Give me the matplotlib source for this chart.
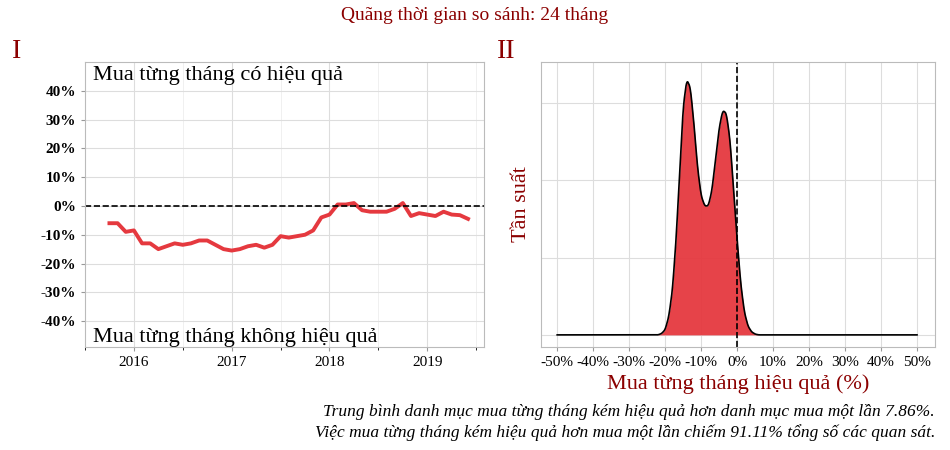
import matplotlib
matplotlib.use("Agg")
import matplotlib.pyplot as plt
import numpy as np

plt.rcParams['font.family'] = ['Liberation Serif', 'DejaVu Serif']

# Left panel: monthly relative performance (%) from Oct 2015
start_year = 2015.75
perf = [-6, -6, -9, -8.5, -13, -13, -15, -14, -13, -13.5, -13, -12, -12, -13.5, -15,
        -15.5, -15, -14, -13.5, -14.5, -13.5, -10.5, -11, -10.5, -10, -8.5, -4, -3,
        0.5, 0.5, 1, -1.5, -2, -2, -2, -1, 1, -3.5, -2.5, -3, -3.5, -2, -3, -3.2, -4.5]
years = [2016, 2017, 2018, 2019]
yticks = [-40, -30, -20, -10, 0, 10, 20, 30, 40]

# Right panel: density curve
dens_x = [-50, -22, -21, -20, -19, -18, -17, -16, -15, -14, -13, -12, -11, -10, -9, -8, -7,
          -6, -5, -4, -3, -2, -1, 0, 1, 2, 3, 4, 5, 6, 50]
dens_y = [0, 0, 0.005, 0.02, 0.07, 0.17, 0.36, 0.62, 0.88, 0.99, 0.96, 0.82, 0.65, 0.54,
          0.5, 0.5, 0.56, 0.68, 0.8, 0.87, 0.86, 0.76, 0.57, 0.37, 0.2, 0.09, 0.035,
          0.012, 0.003, 0, 0]
xticks_r = list(range(-50, 51, 10))

RED = '#e5393f'
DARK = '#8b0000'

fig = plt.figure(figsize=(9.5, 4.5), dpi=100)
ax1 = fig.add_axes([85/950, 1-347/450, 399/950, 285/450])
ax2 = fig.add_axes([541/950, 1-347/450, 394/950, 285/450])

for ax in (ax1, ax2):
    ax.grid(True, color='#dddddd', lw=0.8)
    ax.set_axisbelow(True)
    for s in ax.spines.values():
        s.set_color('#bbbbbb')
    ax.tick_params(length=3, color='#999999')

t = start_year + np.arange(len(perf)) / 12.0
ax1.plot(t, perf, color=RED, lw=2.8)
ax1.axhline(0, color='black', ls='--', lw=1.2)
ax1.set_xlim(2015.51, 2019.58)
ax1.set_ylim(-49, 50)
ax1.set_xticks(years)
ax1.set_xticklabels([str(y) for y in years], fontsize=11)
ax1.set_xticks([2015.5, 2016.5, 2017.5, 2018.5, 2019.5], minor=True)
ax1.grid(True, which='minor', color='#eeeeee', lw=0.6)
ax1.set_yticks(yticks)
ax1.set_yticklabels([f"{v}%" for v in yticks], fontsize=11, fontweight='bold')
ax1.text(0.02, 0.985, "Mua từng tháng có hiệu quả", transform=ax1.transAxes,
         fontsize=16, va='top', ha='left')
ax1.text(0.02, 0.0, "Mua từng tháng không hiệu quả", transform=ax1.transAxes,
         fontsize=16, va='bottom', ha='left')

xs = np.linspace(-50, 50, 2001)
ys = np.interp(xs, dens_x, dens_y)
k = np.ones(15) / 15
ys = np.convolve(ys, k, mode='same')
ax2.fill_between(xs, 0, ys, color=RED, alpha=0.95, lw=0)
ax2.plot(xs, ys, color='black', lw=1.2)
ax2.axvline(0, color='black', ls='--', lw=1.2)
ax2.set_xlim(-54.5, 55)
ax2.set_ylim(-0.047, 1.058)
ax2.set_xticks(xticks_r)
ax2.set_xticklabels([f"{v}%" for v in xticks_r], fontsize=11)
ax2.set_yticks([0, 0.3, 0.6, 0.9])
ax2.set_yticklabels([])
ax2.tick_params(axis='y', length=0)
ax2.set_xlabel("Mua từng tháng hiệu quả (%)", color=DARK, fontsize=16, labelpad=4)
ax2.set_ylabel("Tần suất", color=DARK, fontsize=16)

fig.text(0.5, 0.965, "Quãng thời gian so sánh: 24 tháng", color=DARK, fontsize=14,
         ha='center', va='center')
fig.text(12/950, 1-52/450, "I", color=DARK, fontsize=20, va='center')
fig.text(497/950, 1-52/450, "II", color=DARK, fontsize=20, va='center')
fig.text(935/950, 1-412/450,
         "Trung bình danh mục mua từng tháng kém hiệu quả hơn danh mục mua một lần 7.86%.",
         fontsize=12.5, style='italic', ha='right', va='center')
fig.text(935/950, 1-433/450,
         "Việc mua từng tháng kém hiệu quả hơn mua một lần chiếm 91.11% tổng số các quan sát.",
         fontsize=12.5, style='italic', ha='right', va='center')

fig.savefig("out.png", dpi=100)
